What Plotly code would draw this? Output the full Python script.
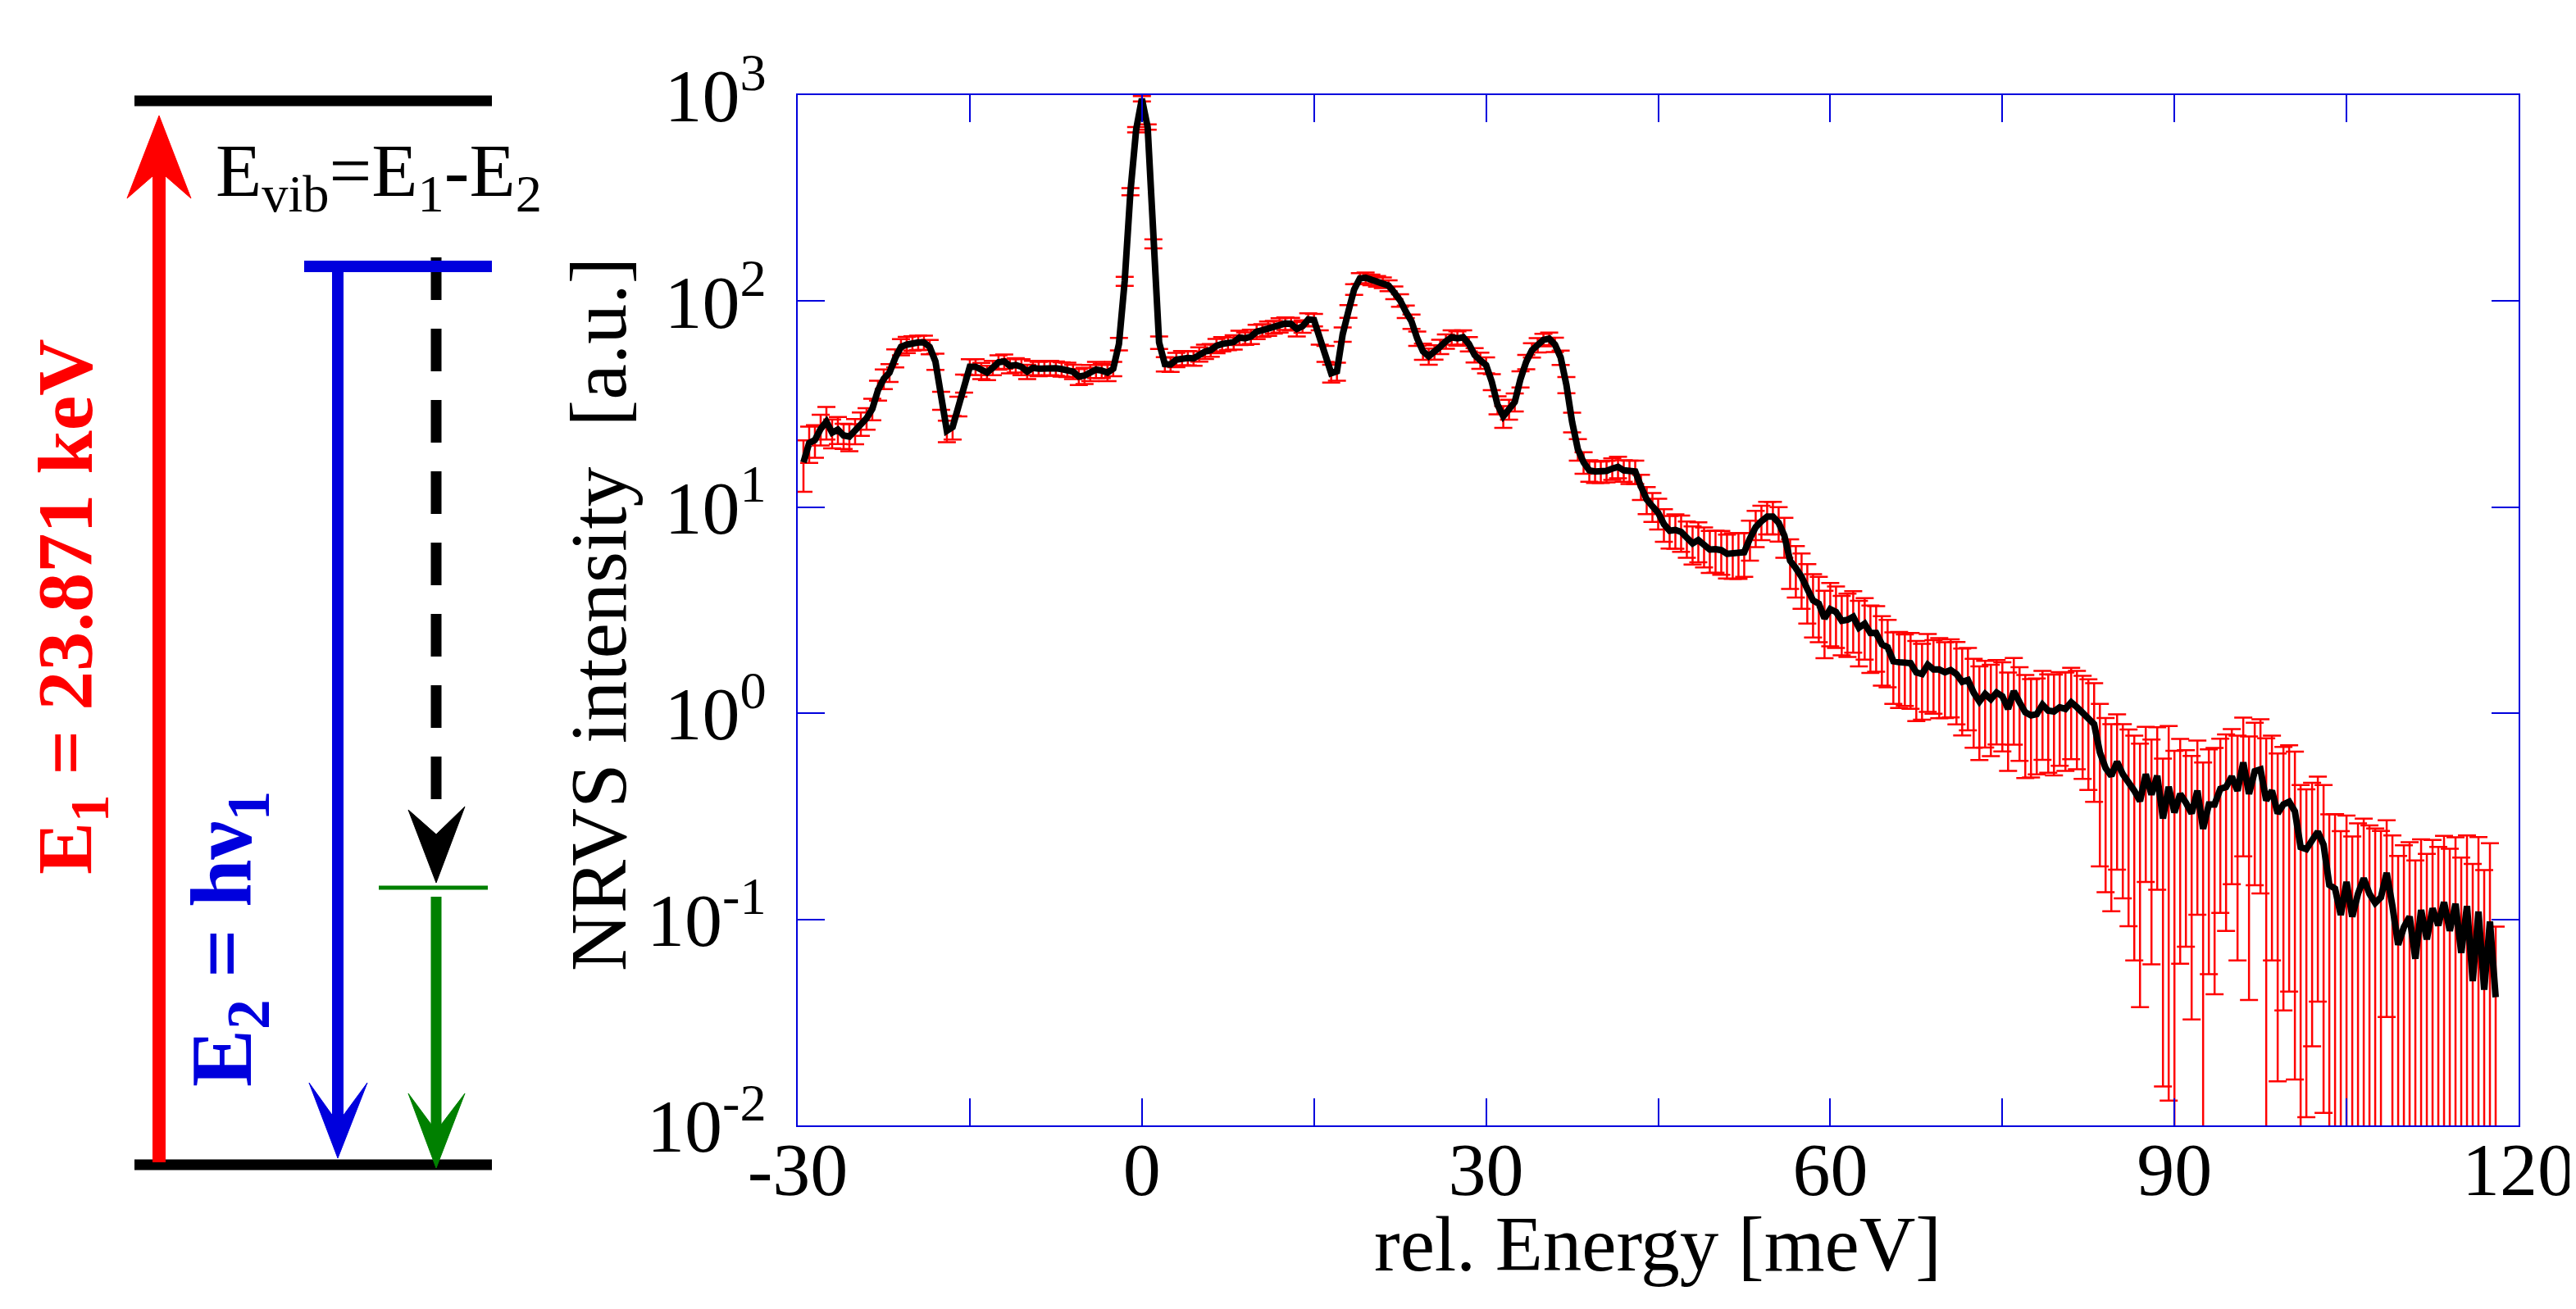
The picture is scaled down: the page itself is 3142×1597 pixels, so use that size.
import plotly.graph_objects as go

W, H = 3142, 1597
PX0, PX1, PY0, PY1 = 965, 3064, 108, 1365   # plot frame in figure pixels

# ---------------- data ----------------
energy = [
    -29.5, -29.0, -28.5, -28.0, -27.5, -27.0, -26.5, -26.0, -25.5, -25.0,
    -24.5, -24.0, -23.5, -23.0, -22.5, -22.0, -21.5, -21.0, -20.5, -20.0,
    -19.5, -19.0, -18.5, -18.0, -17.5, -17.0, -16.5, -16.0, -15.5, -15.0,
    -14.5, -14.0, -13.5, -13.0, -12.5, -12.0, -11.5, -11.0, -10.5, -10.0,
    -9.5, -9.0, -8.5, -8.0, -7.5, -7.0, -6.5, -6.0, -5.5, -5.0,
    -4.5, -4.0, -3.5, -3.0, -2.5, -2.0, -1.5, -1.0, -0.5, 0.0,
    0.5, 1.0, 1.5, 2.0, 2.5, 3.0, 3.5, 4.0, 4.5, 5.0,
    5.5, 6.0, 6.5, 7.0, 7.5, 8.0, 8.5, 9.0, 9.5, 10.0,
    10.5, 11.0, 11.5, 12.0, 12.5, 13.0, 13.5, 14.0, 14.5, 15.0,
    15.5, 16.0, 16.5, 17.0, 17.5, 18.0, 18.5, 19.0, 19.5, 20.0,
    20.5, 21.0, 21.5, 22.0, 22.5, 23.0, 23.5, 24.0, 24.5, 25.0,
    25.5, 26.0, 26.5, 27.0, 27.5, 28.0, 28.5, 29.0, 29.5, 30.0,
    30.5, 31.0, 31.5, 32.0, 32.5, 33.0, 33.5, 34.0, 34.5, 35.0,
    35.5, 36.0, 36.5, 37.0, 37.5, 38.0, 38.5, 39.0, 39.5, 40.0,
    40.5, 41.0, 41.5, 42.0, 42.5, 43.0, 43.5, 44.0, 44.5, 45.0,
    45.5, 46.0, 46.5, 47.0, 47.5, 48.0, 48.5, 49.0, 49.5, 50.0,
    50.5, 51.0, 51.5, 52.0, 52.5, 53.0, 53.5, 54.0, 54.5, 55.0,
    55.5, 56.0, 56.5, 57.0, 57.5, 58.0, 58.5, 59.0, 59.5, 60.0,
    60.5, 61.0, 61.5, 62.0, 62.5, 63.0, 63.5, 64.0, 64.5, 65.0,
    65.5, 66.0, 66.5, 67.0, 67.5, 68.0, 68.5, 69.0, 69.5, 70.0,
    70.5, 71.0, 71.5, 72.0, 72.5, 73.0, 73.5, 74.0, 74.5, 75.0,
    75.5, 76.0, 76.5, 77.0, 77.5, 78.0, 78.5, 79.0, 79.5, 80.0,
    80.5, 81.0, 81.5, 82.0, 82.5, 83.0, 83.5, 84.0, 84.5, 85.0,
    85.5, 86.0, 86.5, 87.0, 87.5, 88.0, 88.5, 89.0, 89.5, 90.0,
    90.5, 91.0, 91.5, 92.0, 92.5, 93.0, 93.5, 94.0, 94.5, 95.0,
    95.5, 96.0, 96.5, 97.0, 97.5, 98.0, 98.5, 99.0, 99.5, 100.0,
    100.5, 101.0, 101.5, 102.0, 102.5, 103.0, 103.5, 104.0, 104.5, 105.0,
    105.5, 106.0, 106.5, 107.0, 107.5, 108.0, 108.5, 109.0, 109.5, 110.0,
    110.5, 111.0, 111.5, 112.0, 112.5, 113.0, 113.5, 114.0, 114.5, 115.0,
    115.5, 116.0, 116.5, 117.0, 117.5, 118.0,
]

intensity = [
    16.5, 20.5, 21.2, 24.0, 26.0, 23.0, 23.8, 22.3, 22.0, 23.5,
    25.5, 27.0, 30.0, 37.0, 42.0, 45.0, 53.0, 60.0, 61.5, 62.5,
    63.0, 63.0, 60.0, 51.0, 33.0, 23.5, 24.5, 31.0, 40.0, 48.0,
    48.0, 46.0, 45.0, 47.5, 50.5, 51.0, 48.5, 49.0, 48.0, 45.5,
    47.5, 47.0, 47.3, 47.5, 47.2, 46.8, 46.5, 45.5, 43.0, 43.5,
    45.0, 46.5, 46.0, 45.0, 47.0, 62.0, 125.0, 340.0, 680.0, 960.0,
    700.0, 190.0, 63.0, 49.5, 49.3, 52.0, 53.0, 53.0, 52.8, 55.3,
    56.9, 57.8, 60.7, 62.0, 62.2, 63.3, 66.5, 66.0, 67.3, 71.1,
    72.2, 73.8, 74.9, 76.5, 77.9, 77.5, 73.3, 75.5, 81.5, 81.0,
    66.8, 55.7, 44.7, 45.7, 69.0, 89.3, 114.0, 129.0, 130.0, 127.0,
    125.0, 123.0, 119.0, 110.0, 101.0, 89.0, 79.8, 65.9, 57.1, 54.0,
    56.5, 60.1, 63.9, 66.8, 66.0, 66.8, 62.0, 54.8, 51.6, 49.0,
    40.6, 31.4, 27.6, 29.9, 32.4, 41.9, 50.8, 57.8, 61.2, 64.9,
    65.8, 61.6, 53.3, 39.3, 25.9, 19.1, 16.5, 15.1, 14.9, 14.9,
    15.0, 15.4, 15.7, 15.1, 14.9, 14.9, 12.6, 10.9, 10.1, 9.40,
    8.28, 7.69, 7.76, 7.59, 7.11, 6.67, 6.93, 6.54, 6.23, 6.25,
    6.19, 5.94, 5.99, 5.99, 6.05, 7.05, 8.00, 8.55, 9.00, 9.00,
    8.40, 7.28, 5.50, 5.06, 4.59, 4.01, 3.53, 3.40, 2.89, 3.20,
    3.10, 2.81, 2.84, 2.94, 2.60, 2.72, 2.45, 2.45, 2.16, 2.09,
    1.79, 1.77, 1.75, 1.75, 1.58, 1.55, 1.72, 1.63, 1.63, 1.58,
    1.62, 1.55, 1.42, 1.45, 1.26, 1.14, 1.24, 1.17, 1.26, 1.21,
    1.05, 1.28, 1.13, 1.01, 0.977, 0.990, 1.10, 1.03, 1.02, 1.07,
    1.05, 1.13, 1.07, 1.00, 0.944, 0.885, 0.646, 0.542, 0.497, 0.581,
    0.506, 0.463, 0.421, 0.375, 0.506, 0.403, 0.497, 0.309, 0.440, 0.330,
    0.406, 0.368, 0.327, 0.421, 0.275, 0.361, 0.361, 0.430, 0.439, 0.493,
    0.421, 0.577, 0.406, 0.523, 0.534, 0.378, 0.421, 0.327, 0.361, 0.372,
    0.334, 0.224, 0.219, 0.242, 0.266, 0.230, 0.147, 0.141, 0.105, 0.152,
    0.103, 0.133, 0.158, 0.133, 0.120, 0.128, 0.168, 0.116, 0.0753, 0.0916,
    0.103, 0.0644, 0.111, 0.0799, 0.113, 0.0935, 0.121, 0.088, 0.119, 0.0687,
    0.116, 0.0502, 0.109, 0.0456, 0.0975, 0.0419,
]

# relative size of the red error bars (fraction of the intensity)
rel_err = [
    0.28, 0.20, 0.18, 0.17, 0.18, 0.16, 0.15, 0.14, 0.15, 0.14,
    0.13, 0.12, 0.12, 0.11, 0.11, 0.10, 0.10, 0.09, 0.09, 0.08,
    0.08, 0.08, 0.08, 0.09, 0.10, 0.12, 0.13, 0.11, 0.10, 0.09,
    0.09, 0.09, 0.08, 0.08, 0.08, 0.08, 0.08, 0.08, 0.09, 0.08,
    0.08, 0.08, 0.08, 0.08, 0.08, 0.08, 0.08, 0.08, 0.09, 0.09,
    0.09, 0.09, 0.08, 0.09, 0.08, 0.07, 0.05, 0.04, 0.03, 0.03,
    0.03, 0.05, 0.07, 0.08, 0.08, 0.08, 0.08, 0.08, 0.08, 0.08,
    0.08, 0.07, 0.08, 0.08, 0.07, 0.08, 0.08, 0.07, 0.08, 0.08,
    0.07, 0.08, 0.07, 0.08, 0.07, 0.07, 0.08, 0.07, 0.07, 0.07,
    0.08, 0.09, 0.10, 0.10, 0.08, 0.07, 0.06, 0.06, 0.06, 0.06,
    0.06, 0.06, 0.06, 0.07, 0.07, 0.07, 0.08, 0.08, 0.09, 0.09,
    0.08, 0.08, 0.08, 0.08, 0.08, 0.08, 0.08, 0.08, 0.09, 0.09,
    0.09, 0.10, 0.12, 0.11, 0.10, 0.09, 0.08, 0.08, 0.08, 0.07,
    0.07, 0.08, 0.08, 0.09, 0.11, 0.12, 0.12, 0.12, 0.12, 0.12,
    0.12, 0.12, 0.12, 0.12, 0.13, 0.13, 0.14, 0.15, 0.16, 0.17,
    0.18, 0.18, 0.19, 0.20, 0.20, 0.21, 0.22, 0.22, 0.23, 0.23,
    0.24, 0.24, 0.25, 0.25, 0.24, 0.22, 0.20, 0.19, 0.18, 0.18,
    0.19, 0.22, 0.27, 0.28, 0.30, 0.32, 0.34, 0.35, 0.36, 0.34,
    0.33, 0.32, 0.34, 0.33, 0.35, 0.33, 0.36, 0.35, 0.37, 0.36,
    0.38, 0.40, 0.38, 0.40, 0.42, 0.40, 0.41, 0.39, 0.42, 0.40,
    0.41, 0.43, 0.45, 0.43, 0.46, 0.48, 0.45, 0.47, 0.44, 0.46,
    0.50, 0.45, 0.48, 0.52, 0.50, 0.49, 0.46, 0.50, 0.51, 0.48,
    0.50, 0.47, 0.50, 0.52, 0.55, 0.58, 0.72, 0.75, 0.78, 0.70,
    0.75, 0.80, 0.85, 0.90, 0.70, 0.85, 0.72, 0.95, 0.97, 0.99,
    0.85, 0.80, 0.90, 0.75, 1.10, 0.85, 0.88, 0.75, 0.80, 0.70,
    0.85, 0.65, 0.90, 0.72, 0.75, 1.00, 0.85, 0.95, 0.90, 0.88,
    0.95, 1.00, 0.95, 0.90, 0.85, 0.95, 1.20, 1.30, 1.55, 1.10,
    1.45, 1.20, 0.95, 1.15, 1.30, 1.10, 0.80, 1.20, 1.70, 1.50,
    1.30, 2.00, 1.20, 1.60, 1.15, 1.40, 1.10, 1.50, 1.10, 1.90,
    1.20, 2.70, 1.30, 2.80, 1.40, 1.20,
]

x_tick_vals = [-30, -15, 0, 15, 30, 45, 60, 75, 90, 105, 120]
x_tick_text = ["-30", "", "0", "", "30", "", "60", "", "90", "", "120"]
y_tick_vals = [0.01, 0.1, 1, 10, 100, 1000]
y_tick_text = ["10<sup>-2</sup>", "10<sup>-1</sup>", "10<sup>0</sup>",
               "10<sup>1</sup>", "10<sup>2</sup>", "10<sup>3</sup>"]

x_title = "rel. Energy [meV]"
y_title = "NRVS intensity\u00a0 [a.u.]"
label_vib = "E<sub>vib</sub>=E<sub>1</sub>-E<sub>2</sub>"
label_e1 = "<b>E<sub>1</sub> = 23.871 keV</b>"
label_e2 = "<b>E<sub>2</sub> = h\u03bd<sub>1</sub></b>"

err = [v * r for v, r in zip(intensity, rel_err)]

AXIS_BLUE = "#0000dd"
SERIF = "Liberation Serif"


def fx(px):
    return px / W


def fy(py):
    return 1 - py / H


fig = go.Figure()
fig.add_trace(go.Scatter(
    x=energy, y=intensity, mode="markers",
    marker=dict(size=1, color="rgba(0,0,0,0)"),
    error_y=dict(type="data", array=err, visible=True, color="#ff0000",
                 thickness=2.5, width=11),
    hoverinfo="skip", showlegend=False,
))
fig.add_trace(go.Scatter(
    x=energy, y=intensity, mode="lines",
    line=dict(color="black", width=8),
    showlegend=False,
))

# ---------------- level scheme (schematic drawing) ----------------
shapes = []


def hline(x0, x1, y, color, width, dash="solid"):
    shapes.append(dict(type="line", xref="paper", yref="paper",
                       x0=fx(x0), x1=fx(x1), y0=fy(y), y1=fy(y),
                       line=dict(color=color, width=width, dash=dash)))


def vline(x, y0, y1, color, width, dash="solid"):
    shapes.append(dict(type="line", xref="paper", yref="paper",
                       x0=fx(x), x1=fx(x), y0=fy(y0), y1=fy(y1),
                       line=dict(color=color, width=width, dash=dash)))


def poly(points, color):
    path = "M" + " L".join(f"{fx(px):.6f},{fy(py):.6f}" for px, py in points) + " Z"
    shapes.append(dict(type="path", xref="paper", yref="paper", path=path,
                       fillcolor=color, line=dict(color=color, width=1)))


hline(156, 592, 115, "black", 13)
hline(156, 592, 1413, "black", 13)
# red excitation arrow
vline(186, 1410, 198, "#ff0000", 16)
poly([(186, 133), (225, 234), (186, 200), (147, 234)], "#ff0000")
# dashed black arrow
vline(524, 306, 967, "black", 13, dash="52px,35px")
poly([(524, 1069), (559, 976), (524, 1010), (490, 980)], "black")
# blue level + arrow
hline(363, 592, 317, "#0000dd", 14)
vline(404, 317, 1362, "#0000dd", 14)
poly([(404, 1405), (440, 1313), (404, 1362), (369, 1313)], "#0000dd")
# green level + arrow
hline(454, 587, 1075, "#008000", 5)
vline(524, 1086, 1374, "#008000", 13)
poly([(524, 1417), (559, 1326), (524, 1372), (490, 1326)], "#008000")

annotations = [
    dict(text=x_title, x=fx((PX0 + PX1) / 2), y=fy(1510), xref="paper", yref="paper",
         showarrow=False, xanchor="center", yanchor="middle",
         font=dict(family=SERIF, size=95, color="black")),
    dict(text=y_title, x=fx(722), y=fy(742), xref="paper", yref="paper",
         showarrow=False, xanchor="center", yanchor="middle", textangle=-90,
         font=dict(family=SERIF, size=98, color="black")),
    dict(text=label_vib, x=fx(253), y=fy(206), xref="paper", yref="paper",
         showarrow=False, xanchor="left", yanchor="middle",
         font=dict(family=SERIF, size=92, color="black")),
    dict(text=label_e1, x=fx(78), y=fy(732), xref="paper", yref="paper",
         showarrow=False, xanchor="center", yanchor="middle", textangle=-90,
         font=dict(family=SERIF, size=96, color="#ff0000")),
    dict(text=label_e2, x=fx(270), y=fy(1138), xref="paper", yref="paper",
         showarrow=False, xanchor="center", yanchor="middle", textangle=-90,
         font=dict(family=SERIF, size=105, color="#0000dd")),
]

axis_common = dict(
    ticks="inside", ticklen=33, tickwidth=2, tickcolor=AXIS_BLUE,
    showline=True, linecolor=AXIS_BLUE, linewidth=2, mirror="ticks",
    showgrid=False, zeroline=False, automargin=False,
    tickfont=dict(family=SERIF, size=92, color="black"),
)

fig.update_layout(
    width=W, height=H,
    margin=dict(l=0, r=0, t=0, b=0),
    paper_bgcolor="white", plot_bgcolor="white",
    showlegend=False,
    xaxis=dict(domain=[PX0 / W, PX1 / W], range=[-30, 120],
               tickmode="array", tickvals=x_tick_vals, ticktext=x_tick_text,
               ticklabelstandoff=-27, **axis_common),
    yaxis=dict(domain=[(H - PY1) / H, (H - PY0) / H], type="log", range=[-2, 3],
               tickmode="array", tickvals=y_tick_vals, ticktext=y_tick_text,
               ticklabelstandoff=18, **axis_common),
    shapes=shapes,
    annotations=annotations,
)

fig.write_html("out.html")
